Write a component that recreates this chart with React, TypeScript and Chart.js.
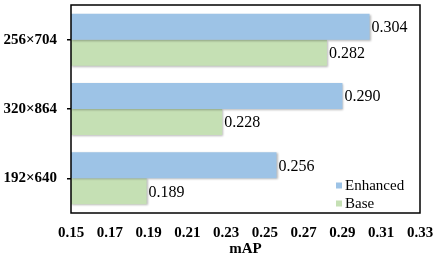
import React, { useEffect, useRef } from "react";
import { Chart, registerables } from "chart.js";

Chart.register(...registerables);

const categories = ["256×704", "320×864", "192×640"];
const enhanced = [0.304, 0.29, 0.256];
const base = [0.282, 0.228, 0.189];
const seriesNames = ["Enhanced", "Base"];
const xMin = 0.15;
const xMax = 0.33;
const xStep = 0.02;

const BLUE = "#9DC3E6";
const GREEN = "#C5E0B4";
const FONT = "'Liberation Serif', 'Times New Roman', serif";

export default function App() {
  const ref = useRef<HTMLCanvasElement | null>(null);

  useEffect(() => {
    if (!ref.current) return;
    const framePlugin = {
      id: "framePlugin",
      beforeDatasetsDraw(chart: any) {
        const ctx = chart.ctx;
        ctx.save();
        ctx.shadowColor = "rgba(0,0,0,0.28)";
        ctx.shadowOffsetX = 1;
        ctx.shadowOffsetY = 1;
        ctx.shadowBlur = 2;
      },
      afterDatasetsDraw(chart: any) {
        const ctx = chart.ctx;
        ctx.restore();
        const a = chart.chartArea;
        ctx.save();
        ctx.font = `16px ${FONT}`;
        ctx.fillStyle = "#000";
        ctx.textAlign = "left";
        ctx.textBaseline = "middle";
        chart.data.datasets.forEach((ds: any, di: number) => {
          const meta = chart.getDatasetMeta(di);
          meta.data.forEach((bar: any, i: number) => {
            const v = ds.data[i] as number;
            ctx.fillText(v.toFixed(3), bar.x + 2, bar.y + 1);
          });
        });
        ctx.restore();
        ctx.save();
        ctx.strokeStyle = "#000";
        ctx.lineWidth = 1.5;
        ctx.strokeRect(a.left, a.top, a.right - a.left, a.bottom - a.top);
        ctx.restore();
        ctx.save();
        ctx.font = `15px ${FONT}`;
        ctx.textBaseline = "middle";
        ctx.textAlign = "left";
        chart.data.datasets.forEach((ds: any, di: number) => {
          const cy = 185.5 + di * 18;
          ctx.fillStyle = ds.backgroundColor;
          ctx.fillRect(336, cy - 3, 6, 6);
          ctx.fillStyle = "#000";
          ctx.fillText(ds.label, 345, cy + 1);
        });
        ctx.restore();
      },
    };

    const chart = new Chart(ref.current, {
      type: "bar",
      data: {
        labels: categories,
        datasets: [
          {
            label: seriesNames[0],
            data: enhanced,
            backgroundColor: BLUE,
            base: xMin,
            categoryPercentage: 0.75,
            barPercentage: 1,
          },
          {
            label: seriesNames[1],
            data: base,
            backgroundColor: GREEN,
            base: xMin,
            categoryPercentage: 0.75,
            barPercentage: 1,
          },
        ],
      },
      options: {
        indexAxis: "y",
        animation: false,
        responsive: false,
        maintainAspectRatio: false,
        layout: { padding: { top: 5, right: 16, left: 0, bottom: 0 } },
        plugins: {
          legend: { display: false },
          tooltip: { enabled: false },
        },
        scales: {
          x: {
            min: xMin,
            max: xMax,
            afterFit: (scale: any) => {
              scale.height = 47;
              scale.paddingLeft = 0;
              scale.paddingRight = 0;
            },
            grid: { display: false },
            border: { display: false },
            ticks: {
              stepSize: xStep,
              padding: 3,
              maxRotation: 0,
              autoSkip: false,
              color: "#000",
              font: { family: FONT, size: 15, weight: "bold" },
              callback: (v: any) => Number(v).toFixed(2),
            },
            title: {
              display: true,
              text: "mAP",
              color: "#000",
              font: { family: FONT, size: 15, weight: "bold" },
              padding: { top: 0, bottom: 2 },
            },
          },
          y: {
            afterFit: (scale: any) => {
              scale.width = 71;
              scale.paddingTop = 0;
              scale.paddingBottom = 0;
            },
            grid: {
              display: true,
              drawOnChartArea: false,
              drawTicks: true,
              tickLength: 4,
              offset: false,
              color: "#000",
              lineWidth: 1.5,
            },
            border: { display: false },
            ticks: {
              padding: 10,
              color: "#000",
              font: { family: FONT, size: 15, weight: "bold" },
            },
          },
        },
      },
      plugins: [framePlugin],
    } as any);
    return () => chart.destroy();
  }, []);

  return (
    <div style={{ position: "absolute", left: 0, top: 0, width: 436, height: 260, background: "#fff" }}>
      <canvas ref={ref} width={436} height={260} style={{ width: 436, height: 260 }} />
    </div>
  );
}
